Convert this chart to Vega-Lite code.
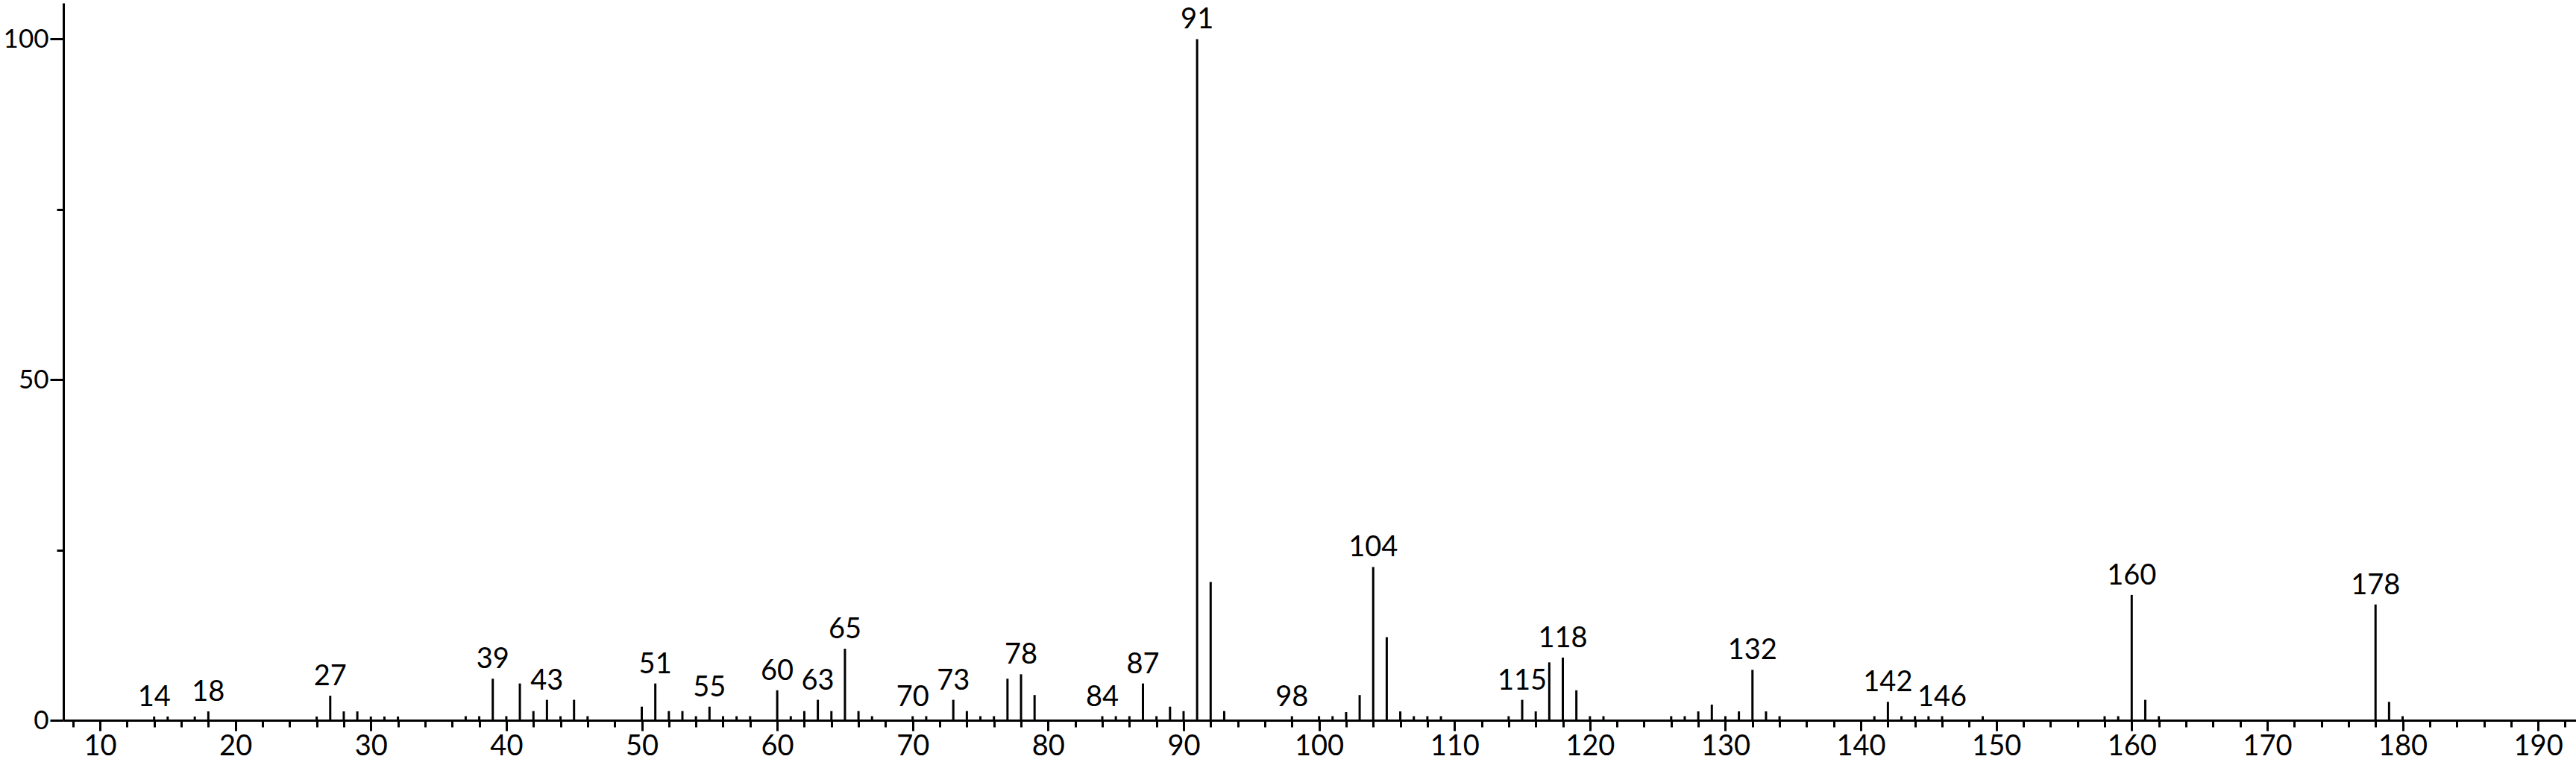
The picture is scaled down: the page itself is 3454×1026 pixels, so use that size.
{
  "$schema": "https://vega.github.io/schema/vega-lite/v6.json",
  "width": 3369,
  "height": 962,
  "autosize": "none",
  "padding": {"left": 85, "top": 4, "right": 0, "bottom": 60},
  "background": "white",
  "config": {
    "view": {"stroke": null},
    "axis": {
      "domainColor": "black",
      "domainWidth": 3,
      "tickColor": "black",
      "tickWidth": 3,
      "grid": false,
      "labelColor": "black",
      "labelFont": "Lato",
      "labelFontSize": 38,
      "title": null,
      "labelOverlap": false,
      "labelFlush": false
    }
  },
  "data": {
    "values": [
      {"mz": 14, "intensity": 0.55, "label": "14"},
      {"mz": 15, "intensity": 0.55, "label": ""},
      {"mz": 17, "intensity": 0.55, "label": ""},
      {"mz": 18, "intensity": 1.3, "label": "18"},
      {"mz": 26, "intensity": 0.55, "label": ""},
      {"mz": 27, "intensity": 3.6, "label": "27"},
      {"mz": 28, "intensity": 1.3, "label": ""},
      {"mz": 29, "intensity": 1.3, "label": ""},
      {"mz": 30, "intensity": 0.55, "label": ""},
      {"mz": 31, "intensity": 0.55, "label": ""},
      {"mz": 32, "intensity": 0.55, "label": ""},
      {"mz": 37, "intensity": 0.6, "label": ""},
      {"mz": 38, "intensity": 0.6, "label": ""},
      {"mz": 39, "intensity": 6.1, "label": "39"},
      {"mz": 40, "intensity": 0.6, "label": ""},
      {"mz": 41, "intensity": 5.4, "label": ""},
      {"mz": 42, "intensity": 1.35, "label": ""},
      {"mz": 43, "intensity": 3.0, "label": "43"},
      {"mz": 44, "intensity": 0.6, "label": ""},
      {"mz": 45, "intensity": 3.0, "label": ""},
      {"mz": 46, "intensity": 0.6, "label": ""},
      {"mz": 50, "intensity": 2.0, "label": ""},
      {"mz": 51, "intensity": 5.4, "label": "51"},
      {"mz": 52, "intensity": 1.35, "label": ""},
      {"mz": 53, "intensity": 1.35, "label": ""},
      {"mz": 54, "intensity": 0.6, "label": ""},
      {"mz": 55, "intensity": 2.0, "label": "55"},
      {"mz": 56, "intensity": 0.6, "label": ""},
      {"mz": 57, "intensity": 0.6, "label": ""},
      {"mz": 58, "intensity": 0.6, "label": ""},
      {"mz": 60, "intensity": 4.4, "label": "60"},
      {"mz": 61, "intensity": 0.6, "label": ""},
      {"mz": 62, "intensity": 1.35, "label": ""},
      {"mz": 63, "intensity": 3.0, "label": "63"},
      {"mz": 64, "intensity": 1.35, "label": ""},
      {"mz": 65, "intensity": 10.5, "label": "65"},
      {"mz": 66, "intensity": 1.35, "label": ""},
      {"mz": 67, "intensity": 0.6, "label": ""},
      {"mz": 70, "intensity": 0.6, "label": "70"},
      {"mz": 71, "intensity": 0.6, "label": ""},
      {"mz": 73, "intensity": 3.0, "label": "73"},
      {"mz": 74, "intensity": 1.35, "label": ""},
      {"mz": 75, "intensity": 0.6, "label": ""},
      {"mz": 76, "intensity": 0.6, "label": ""},
      {"mz": 77, "intensity": 6.1, "label": ""},
      {"mz": 78, "intensity": 6.75, "label": "78"},
      {"mz": 79, "intensity": 3.7, "label": ""},
      {"mz": 84, "intensity": 0.6, "label": "84"},
      {"mz": 85, "intensity": 0.6, "label": ""},
      {"mz": 86, "intensity": 0.6, "label": ""},
      {"mz": 87, "intensity": 5.4, "label": "87"},
      {"mz": 88, "intensity": 0.6, "label": ""},
      {"mz": 89, "intensity": 2.0, "label": ""},
      {"mz": 90, "intensity": 1.35, "label": ""},
      {"mz": 91, "intensity": 100, "label": "91"},
      {"mz": 92, "intensity": 20.3, "label": ""},
      {"mz": 93, "intensity": 1.35, "label": ""},
      {"mz": 98, "intensity": 0.6, "label": "98"},
      {"mz": 100, "intensity": 0.6, "label": ""},
      {"mz": 101, "intensity": 0.6, "label": ""},
      {"mz": 102, "intensity": 1.2, "label": ""},
      {"mz": 103, "intensity": 3.7, "label": ""},
      {"mz": 104, "intensity": 22.5, "label": "104"},
      {"mz": 105, "intensity": 12.2, "label": ""},
      {"mz": 106, "intensity": 1.3, "label": ""},
      {"mz": 107, "intensity": 0.6, "label": ""},
      {"mz": 108, "intensity": 0.6, "label": ""},
      {"mz": 109, "intensity": 0.6, "label": ""},
      {"mz": 114, "intensity": 0.6, "label": ""},
      {"mz": 115, "intensity": 3.0, "label": "115"},
      {"mz": 116, "intensity": 1.3, "label": ""},
      {"mz": 117, "intensity": 8.5, "label": ""},
      {"mz": 118, "intensity": 9.2, "label": "118"},
      {"mz": 119, "intensity": 4.4, "label": ""},
      {"mz": 120, "intensity": 0.6, "label": ""},
      {"mz": 121, "intensity": 0.6, "label": ""},
      {"mz": 126, "intensity": 0.6, "label": ""},
      {"mz": 127, "intensity": 0.6, "label": ""},
      {"mz": 128, "intensity": 1.3, "label": ""},
      {"mz": 129, "intensity": 2.3, "label": ""},
      {"mz": 130, "intensity": 0.6, "label": ""},
      {"mz": 131, "intensity": 1.3, "label": ""},
      {"mz": 132, "intensity": 7.4, "label": "132"},
      {"mz": 133, "intensity": 1.3, "label": ""},
      {"mz": 134, "intensity": 0.6, "label": ""},
      {"mz": 141, "intensity": 0.6, "label": ""},
      {"mz": 142, "intensity": 2.7, "label": "142"},
      {"mz": 143, "intensity": 0.6, "label": ""},
      {"mz": 144, "intensity": 0.6, "label": ""},
      {"mz": 145, "intensity": 0.6, "label": ""},
      {"mz": 146, "intensity": 0.6, "label": "146"},
      {"mz": 149, "intensity": 0.6, "label": ""},
      {"mz": 158, "intensity": 0.6, "label": ""},
      {"mz": 159, "intensity": 0.6, "label": ""},
      {"mz": 160, "intensity": 18.4, "label": "160"},
      {"mz": 161, "intensity": 3.0, "label": ""},
      {"mz": 162, "intensity": 0.6, "label": ""},
      {"mz": 178, "intensity": 17.0, "label": "178"},
      {"mz": 179, "intensity": 2.7, "label": ""},
      {"mz": 180, "intensity": 0.6, "label": ""}
    ]
  },
  "encoding": {
    "x": {
      "field": "mz",
      "type": "quantitative",
      "scale": {"domain": [7.3, 192.8], "nice": false, "zero": false},
      "axis": {
        "values": [8,10,12,14,16,18,20,22,24,26,28,30,32,34,36,38,40,42,44,46,48,50,52,54,56,58,60,62,64,66,68,70,72,74,76,78,80,82,84,86,88,90,92,94,96,98,100,102,104,106,108,110,112,114,116,118,120,122,124,126,128,130,132,134,136,138,140,142,144,146,148,150,152,154,156,158,160,162,164,166,168,170,172,174,176,178,180,182,184,186,188,190,192],
        "tickSize": {"condition": {"test": "datum.value % 10 === 0", "value": 14}, "value": 9},
        "labelExpr": "datum.value % 10 === 0 ? datum.label : ''",
        "labelPadding": 2
      }
    },
    "y": {
      "field": "intensity",
      "type": "quantitative",
      "scale": {"domain": [0, 105.3], "nice": false},
      "axis": {
        "values": [0, 25, 50, 75, 100],
        "tickSize": {"condition": {"test": "datum.value % 50 === 0", "value": 18}, "value": 9},
        "labelExpr": "datum.value % 50 === 0 ? datum.label : ''",
        "labelPadding": 2,
        "labelFontSize": 35
      }
    }
  },
  "layer": [
    {
      "mark": {"type": "rule", "color": "black", "strokeWidth": 3},
      "encoding": {"y2": {"datum": 0}}
    },
    {
      "transform": [{"filter": "datum.label != ''"}],
      "mark": {"type": "text", "font": "Lato", "fontSize": 38, "color": "black", "baseline": "alphabetic", "align": "center", "dy": -14},
      "encoding": {"text": {"field": "label"}}
    }
  ]
}
